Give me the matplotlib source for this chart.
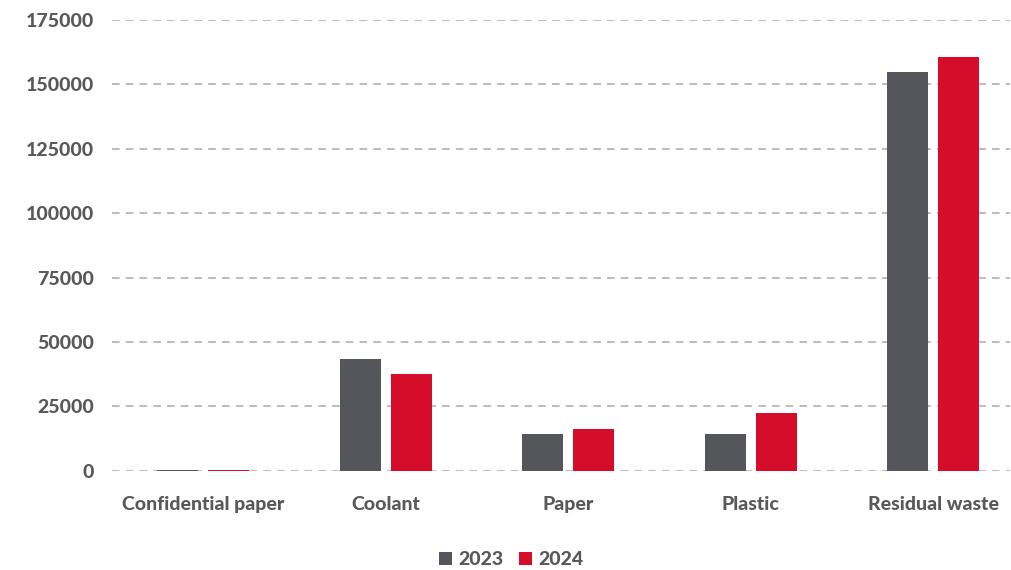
import numpy as np
import matplotlib.pyplot as plt

# Waste quantities per category
categories = ['Confidential paper', 'Coolant', 'Paper', 'Plastic', 'Residual waste']
values_2023 = [300, 43500, 14300, 14100, 154800]
values_2024 = [250, 37600, 16400, 22500, 160700]

plt.rcParams['font.family'] = ['Lato', 'DejaVu Sans']

fig = plt.figure(figsize=(10.12, 5.7), dpi=100)
ax = fig.add_axes([0.1107, 0.174, 0.887, 0.791])

x = np.arange(len(categories))
w = 0.225
ax.bar(x - 0.14, values_2023, w, color='#55565B', label='2023', zorder=3)
ax.bar(x + 0.14, values_2024, w, color='#D50C2A', label='2024', zorder=3)

ax.set_ylim(0, 175000)
ax.set_xlim(-0.5, 4.42)
ax.set_yticks(np.arange(0, 175001, 25000))
ax.yaxis.grid(True, linestyle=(0, (5, 4)), color='#AAAAAA', linewidth=1.1, zorder=0)
ax.set_xticks(x)
ax.set_xticklabels(categories)
for s in ax.spines.values():
    s.set_visible(False)
ax.tick_params(length=0, labelsize=14, labelcolor='#595959', pad=13)
for lbl in ax.get_xticklabels() + ax.get_yticklabels():
    lbl.set_fontweight('black')
ax.tick_params(axis='x', pad=18)

fig.legend(loc='center', bbox_to_anchor=(0.505, 0.018), ncol=2, frameon=False,
           handlelength=0.7, handleheight=0.7, handletextpad=0.3, columnspacing=0.8,
           prop={'size': 14, 'weight': 'black'}, labelcolor='#595959')

plt.savefig('out.png', dpi=100)
